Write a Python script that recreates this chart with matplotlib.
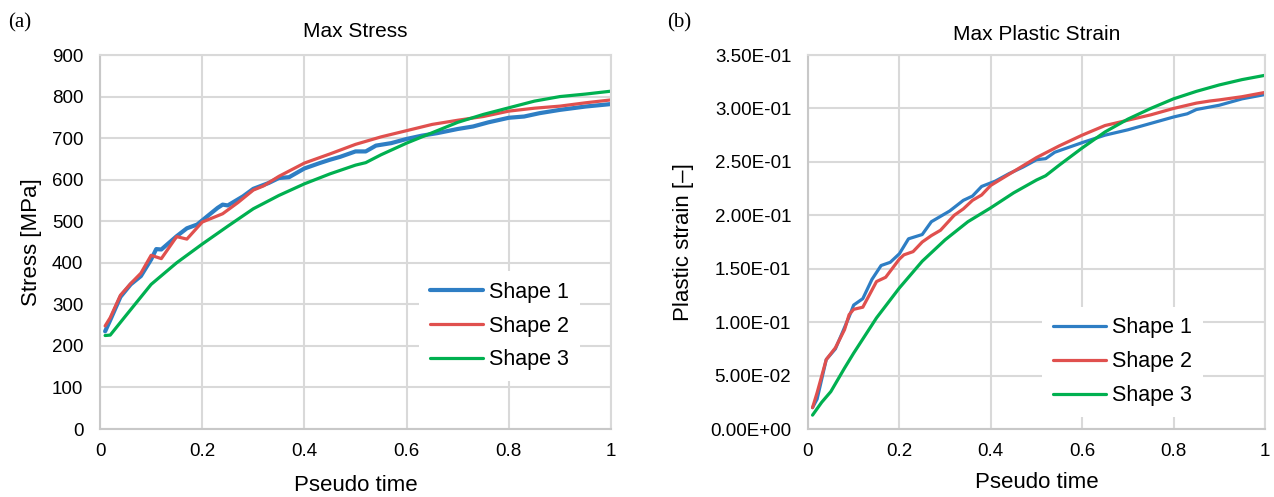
import matplotlib
matplotlib.use("Agg")
import matplotlib.pyplot as plt
from matplotlib.ticker import FuncFormatter, MultipleLocator

plt.rcParams['font.family'] = ['Liberation Sans', 'DejaVu Sans']

# ---- Max Stress (a) ----
stress_x1 = [0.01, 0.02, 0.04, 0.06, 0.08, 0.10, 0.11, 0.12, 0.15, 0.17, 0.19, 0.21, 0.23, 0.24,
             0.25, 0.28, 0.30, 0.33, 0.35, 0.37, 0.40, 0.43, 0.45, 0.47, 0.50, 0.52, 0.54, 0.57,
             0.60, 0.63, 0.66, 0.70, 0.73, 0.76, 0.80, 0.83, 0.86, 0.90, 0.95, 1.00]
stress_y1 = [235, 262, 318, 348, 368, 408, 433, 432, 464, 483, 492, 512, 532, 540,
             538, 560, 578, 592, 604, 606, 627, 640, 648, 655, 668, 668, 682, 688,
             698, 706, 712, 722, 728, 738, 749, 752, 760, 768, 776, 782]

stress_x2 = [0.01, 0.02, 0.04, 0.06, 0.08, 0.10, 0.12, 0.15, 0.17, 0.20, 0.22, 0.24, 0.27, 0.30,
             0.32, 0.35, 0.40, 0.45, 0.50, 0.55, 0.60, 0.65, 0.70, 0.75, 0.80, 0.85, 0.90,
             0.95, 1.00]
stress_y2 = [248, 268, 322, 350, 375, 418, 410, 463, 457, 498, 508, 518, 545, 575,
             585, 608, 640, 662, 685, 703, 718, 733, 743, 752, 765, 772, 777,
             785, 792]

stress_x3 = [0.01, 0.02, 0.05, 0.10, 0.15, 0.20, 0.25, 0.30, 0.35, 0.40, 0.45, 0.50, 0.52,
             0.55, 0.60, 0.65, 0.70, 0.75, 0.80, 0.85, 0.90, 0.95, 1.00]
stress_y3 = [225, 226, 272, 348, 400, 445, 488, 530, 562, 590, 614, 635, 641,
             660, 688, 713, 738, 757, 773, 789, 800, 806, 813]

# ---- Max Plastic Strain (b) ----
strain_x1 = [0.01, 0.02, 0.04, 0.06, 0.07, 0.09, 0.10, 0.12, 0.14, 0.16, 0.18, 0.20, 0.22, 0.25,
             0.27, 0.29, 0.31, 0.34, 0.36, 0.38, 0.41, 0.44, 0.47, 0.50, 0.52, 0.54, 0.60,
             0.65, 0.70, 0.75, 0.80, 0.83, 0.85, 0.90, 0.95, 1.00]
strain_y1 = [0.020, 0.028, 0.065, 0.075, 0.085, 0.105, 0.116, 0.122, 0.140, 0.153, 0.156, 0.164,
             0.178, 0.182, 0.194, 0.199, 0.204, 0.214, 0.218, 0.227, 0.232, 0.239, 0.245,
             0.252, 0.253, 0.259, 0.268, 0.275, 0.280, 0.286, 0.292, 0.295, 0.299, 0.303,
             0.309, 0.313]

strain_x2 = [0.01, 0.02, 0.04, 0.06, 0.08, 0.09, 0.10, 0.12, 0.15, 0.17, 0.20, 0.21, 0.23, 0.25,
             0.27, 0.29, 0.32, 0.34, 0.36, 0.38, 0.40, 0.45, 0.50, 0.55, 0.60, 0.65, 0.70,
             0.75, 0.80, 0.85, 0.88, 0.90, 0.95, 1.00]
strain_y2 = [0.020, 0.034, 0.065, 0.076, 0.093, 0.107, 0.112, 0.114, 0.138, 0.142, 0.159, 0.163,
             0.166, 0.175, 0.181, 0.186, 0.200, 0.206, 0.214, 0.219, 0.228, 0.241, 0.254,
             0.265, 0.275, 0.284, 0.289, 0.294, 0.300, 0.305, 0.307, 0.308, 0.311, 0.315]

strain_x3 = [0.01, 0.03, 0.05, 0.08, 0.10, 0.15, 0.20, 0.25, 0.30, 0.35, 0.40, 0.45, 0.50, 0.52,
             0.55, 0.60, 0.65, 0.70, 0.75, 0.80, 0.85, 0.90, 0.95, 1.00]
strain_y3 = [0.013, 0.025, 0.035, 0.057, 0.071, 0.104, 0.132, 0.157, 0.177, 0.194, 0.207, 0.221,
             0.233, 0.237, 0.247, 0.263, 0.278, 0.290, 0.300, 0.309, 0.316, 0.322, 0.327, 0.331]

labels = ['Shape 1', 'Shape 2', 'Shape 3']
colors = ['#2E7EC4', '#E0504E', '#00B050']
grid_color = '#D9D9D9'

fig = plt.figure(figsize=(12.74, 4.97), dpi=100)
ax1 = fig.add_axes([0.0785, 0.1368, 0.4011, 0.7525])
ax2 = fig.add_axes([0.6342, 0.1368, 0.3587, 0.7525])


def style_axis(ax):
    ax.set_xlim(0, 1)
    ax.xaxis.set_major_locator(MultipleLocator(0.2))
    ax.xaxis.set_major_formatter(FuncFormatter(lambda v, p: f"{v:g}"))
    ax.grid(True, color=grid_color, linewidth=1.5)
    ax.set_axisbelow(True)
    for s in ax.spines.values():
        s.set_color(grid_color)
        s.set_linewidth(1.5)
    ax.spines['left'].set_color('#C8C8C8')
    ax.spines['bottom'].set_color('#C8C8C8')
    ax.tick_params(length=0, labelsize=13.5)
    ax.tick_params(axis='x', pad=10)
    ax.tick_params(axis='y', pad=12)


leg_kw = dict(loc='center', bbox_transform=fig.transFigure, fontsize=15.5, frameon=True,
              fancybox=False, framealpha=1, edgecolor='none', handlelength=2.45,
              handletextpad=0.3, labelspacing=0.6, borderpad=0.5)

# (a)
ax1.plot(stress_x1, stress_y1, color=colors[0], linewidth=3.0, label=labels[0], solid_capstyle='round')
ax1.plot(stress_x2, stress_y2, color=colors[1], linewidth=2.3, label=labels[1], solid_capstyle='round')
ax1.plot(stress_x3, stress_y3, color=colors[2], linewidth=2.3, label=labels[2], solid_capstyle='round')
style_axis(ax1)
ax1.set_ylim(0, 900)
ax1.yaxis.set_major_locator(MultipleLocator(100))
ax1.set_title('Max Stress', fontsize=15, pad=13)
ax1.set_xlabel('Pseudo time', fontsize=16, labelpad=11)
ax1.set_ylabel('Stress [MPa]', fontsize=16, labelpad=7)
ax1.legend(bbox_to_anchor=(0.392, 0.344), **leg_kw)

# (b)
ax2.plot(strain_x1, strain_y1, color=colors[0], linewidth=2.3, label=labels[0], solid_capstyle='round')
ax2.plot(strain_x2, strain_y2, color=colors[1], linewidth=2.3, label=labels[1], solid_capstyle='round')
ax2.plot(strain_x3, strain_y3, color=colors[2], linewidth=2.3, label=labels[2], solid_capstyle='round')
style_axis(ax2)
ax2.set_ylim(0, 0.35)
ax2.yaxis.set_major_locator(MultipleLocator(0.05))
ax2.yaxis.set_major_formatter(FuncFormatter(lambda v, p: f"{v:.2E}"))
ax2.set_title('Max Plastic Strain', fontsize=15, pad=11)
ax2.set_xlabel('Pseudo time', fontsize=16, labelpad=9)
ax2.set_ylabel('Plastic strain [\u2013]', fontsize=16, labelpad=12)
ax2.legend(bbox_to_anchor=(0.881, 0.272), **leg_kw)

fig.text(0.006, 0.953, '(a)', fontsize=15, family=['Liberation Serif', 'DejaVu Serif'], va='center')
fig.text(0.524, 0.953, '(b)', fontsize=15, family=['Liberation Serif', 'DejaVu Serif'], va='center')

fig.savefig('out.png', dpi=100)
